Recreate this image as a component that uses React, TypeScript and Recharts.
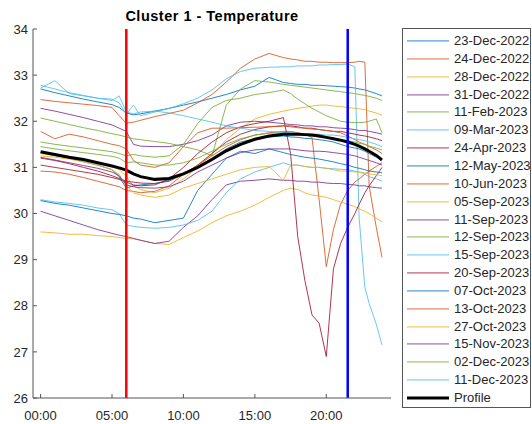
import React from 'react';
import { ComposedChart, Line, XAxis, YAxis, ReferenceLine, Legend } from 'recharts';

// hours of day
const times = [0, 1, 2, 3, 4, 5, 5.5, 6, 6.5, 7, 8, 9, 10, 11, 12, 13, 14, 15, 16, 17, 17.5, 18, 18.5, 19, 19.5, 20, 20.5, 21, 21.5, 22, 22.3, 22.7, 23, 23.5, 23.9];

const dec23_2022 = [32.70,32.62,32.55,32.48,32.42,32.36, 32.30,32.18,32.14,32.16,32.22,32.28,32.35, 32.42,32.50,32.58,32.68,32.76,32.95, 32.84,32.82,32.80,32.80,32.78,32.78, 32.77,32.76,32.75,32.74,32.72, 32.70,32.68,32.65,32.60,32.55];
const dec24_2022 = [32.47,32.43,32.40,32.37,32.34,32.30, 32.12,31.96,31.98,32.02,32.10,32.17,32.24, 32.40,32.58,32.85,33.15,33.35,33.47, 33.38,33.35,33.33,33.30,33.30,33.28, 33.28,33.27,33.27,33.27,33.28, 33.30,33.28,30.60,29.70,29.05];
const dec28_2022 = [31.30,31.25,31.20,31.15,31.10,31.02, 30.95,30.80,30.60,30.52,30.45,30.55,30.75, 31.00,31.30,31.60,31.85,32.05,32.15, 32.22,32.25,32.28,32.30,32.33,32.35, 32.35,32.33,32.32,32.30,32.28, 32.27,32.25,32.22,32.18,32.13];
const dec31_2022 = [32.28,32.22,32.15,32.08,32.00,31.92, 31.85,31.78,31.50,31.46,31.45,31.45,31.50, 31.58,31.70,31.90,31.98,32.00,31.98, 31.95,31.93,31.92,31.90,31.90,31.88, 31.88,31.86,31.85,31.84,31.82, 31.80,31.80,31.78,31.75,31.72];
const feb11_2023 = [32.07,32.00,31.93,31.86,31.80,31.73, 31.70,31.66,31.62,31.60,31.56,31.52,31.45, 31.38,31.25,32.35,32.70,32.88,32.85, 32.80,32.78,32.76,32.74,32.72,32.70, 32.68,32.66,32.64,32.62,32.60, 32.58,32.56,32.54,32.50,32.45];
const mar09_2023 = [32.78,32.70,32.62,32.56,32.50,32.48, 32.40,32.15,32.35,32.12,32.20,32.28,32.38, 32.50,32.68,32.92,33.08,33.15,33.17, 33.18,33.18,33.20,33.20,33.20,33.22, 33.22,33.23,33.23,33.24,33.18, 29.90,28.40,28.05,27.60,27.15];
const apr24_2023 = [31.20,31.15,31.08,31.00,30.92,30.82, 30.76,30.70,30.68,30.66,30.65,30.70,30.85, 31.05,31.30,31.55,31.72,31.82,31.88, 31.90,31.90,31.88,31.85,31.85,31.82, 31.80,31.78,31.78,31.75,31.72, 31.70,31.68,31.66,31.62,31.58];
const may12_2023 = [31.32,31.26,31.20,31.12,31.05,30.95, 30.80,30.55,30.60,30.62,30.65,30.72,30.85, 31.00,31.20,31.40,31.55,31.62,31.66, 31.68,31.66,31.65,31.63,31.62,31.60, 31.58,31.55,31.50,31.45,31.42, 31.40,31.35,31.30,31.22,31.18];
const jun10_2023 = [30.92,30.90,30.85,30.78,30.70,30.62, 30.58,30.50,30.48,30.45,30.48,30.60,30.85, 31.05,31.25,31.45,31.60,31.70,31.75, 31.78,31.78,31.75,31.72,31.65,30.30, 28.85,29.65,30.20,30.50,30.68, 30.75,30.85,30.92,31.02,31.10];
const sep05_2023 = [29.60,29.58,29.55,29.55,29.52,29.50, 29.48,29.46,29.45,29.42,29.35,29.33,29.48, 29.62,29.80,29.95,30.05,30.18,30.35, 30.50,30.55,30.52,30.45,30.40,30.38, 30.35,30.30,30.25,30.20,30.15, 30.10,30.05,30.00,29.90,29.82];
const sep11_2023 = [30.05,29.95,29.85,29.75,29.65,29.57, 29.53,29.50,29.46,29.42,29.35,29.40,29.70, 29.95,30.30,30.62,30.70,30.72,30.75, 30.72,30.72,30.70,30.70,30.68,30.68, 30.66,30.65,30.65,30.63,30.62, 30.60,30.60,30.58,30.56,30.55];
const sep12_2023 = [31.55,31.50,31.46,31.42,31.38,31.34, 31.30,31.25,31.28,31.25,31.22,31.25,31.50, 31.95,32.30,32.45,32.50,32.58,32.62, 32.68,32.60,32.48,32.38,32.28,32.20, 32.12,32.06,32.00,31.98,31.97, 31.97,31.98,32.00,32.05,31.75];
const sep15_2023 = [30.30,30.25,30.22,30.18,30.12,30.08, 30.00,29.75,29.72,29.70,29.68,29.70,29.75, 29.85,30.05,30.45,30.75,30.90,31.00, 31.10,31.05,31.05,31.02,31.00,31.00, 30.98,30.97,30.96,30.95,30.92, 30.90,30.85,30.80,30.75,30.70];
const sep20_2023 = [31.05,31.00,30.95,30.90,30.85,30.78, 30.74,30.68,30.62,30.60,30.62,30.75,31.00, 31.30,31.55,31.75,31.88,31.95,32.00, 32.08,31.30,29.50,28.55,27.80,27.62, 26.90,28.80,29.35,29.70,30.00, 30.20,30.45,30.60,30.82,31.00];
const oct07_2023 = [30.28,30.22,30.18,30.12,30.06,30.00, 29.98,29.95,29.90,29.88,29.80,29.85,29.90, 30.50,30.85,31.20,31.35,31.30,31.40, 31.32,31.28,31.25,31.22,31.20,31.18, 31.15,31.12,31.08,31.05,31.00, 30.98,30.95,30.92,30.90,30.88];
const oct13_2023 = [31.78,31.62,31.72,31.66,31.58,31.50, 31.47,31.40,31.15,31.05,31.00,31.10,31.45, 31.75,31.85,31.85,31.86,31.87,31.88, 31.90,31.88,31.86,31.85,31.83,31.82, 31.80,31.78,31.75,31.68,31.60, 31.55,31.50,31.45,31.38,31.30];
const oct27_2023 = [31.25,31.22,31.18,31.12,31.05,30.95, 30.85,30.60,30.45,30.40,30.35,30.40,30.55, 30.65,30.75,30.85,30.95,31.00,31.02, 30.72,31.05,31.05,31.02,31.00,31.00, 30.98,30.95,30.92,30.92,30.90, 30.90,30.88,30.86,30.84,30.82];
const nov15_2023 = [31.22,31.16,31.10,31.04,30.98,30.90, 30.82,30.62,30.58,30.56,30.55,30.58,30.70, 30.90,31.05,31.20,31.32,31.38,31.40, 31.40,31.40,31.38,31.36,31.35,31.35, 31.34,31.32,31.30,31.28,31.25, 31.22,31.18,31.15,31.10,31.05];
const dec02_2023 = [31.45,31.40,31.36,31.32,31.28,31.24, 31.20,31.10,31.12,31.10,31.05,31.05,31.10, 31.20,31.35,31.50,31.62,31.70,31.74, 31.75,31.74,31.72,31.70,31.68,31.66, 31.64,31.62,31.60,31.58,31.55, 31.52,31.50,31.46,31.42,31.38];
const dec11_2023 = [32.72,32.88,32.60,32.55,32.50,32.45, 32.55,32.20,32.16,32.20,32.22,32.18,32.12, 32.05,31.98,31.90,31.85,31.80,31.78, 31.76,31.75,31.74,31.73,31.72,31.72, 31.70,31.70,31.68,31.65,31.62, 31.60,31.58,31.55,31.50,31.45];
const profile = [31.34,31.28,31.22,31.17,31.10,31.03, 30.99,30.94,30.86,30.80,30.74,30.76,30.86, 31.00,31.17,31.36,31.50,31.61,31.68, 31.72,31.72,31.72,31.71,31.70,31.68, 31.65,31.62,31.59,31.55,31.50, 31.46,31.40,31.35,31.26,31.16];

const seriesNames = ['23-Dec-2022','24-Dec-2022','28-Dec-2022','31-Dec-2022','11-Feb-2023','09-Mar-2023','24-Apr-2023','12-May-2023','10-Jun-2023','05-Sep-2023','11-Sep-2023','12-Sep-2023','15-Sep-2023','20-Sep-2023','07-Oct-2023','13-Oct-2023','27-Oct-2023','15-Nov-2023','02-Dec-2023','11-Dec-2023'];
const seriesValues = [dec23_2022, dec24_2022, dec28_2022, dec31_2022, feb11_2023, mar09_2023, apr24_2023, may12_2023, jun10_2023, sep05_2023, sep11_2023, sep12_2023, sep15_2023, sep20_2023, oct07_2023, oct13_2023, oct27_2023, nov15_2023, dec02_2023, dec11_2023];
const profileName = 'Profile';
const legendOrder = [...seriesNames, profileName];

const xTicks = [0, 5, 10, 15, 20];
const xTickLabels = ['00:00', '05:00', '10:00', '15:00', '20:00'];
const yTicks = [26, 27, 28, 29, 30, 31, 32, 33, 34];
const startMarker = 6;
const endMarker = 21.5;
const title = 'Cluster 1 - Temperature';

const palette = ['#0072BD', '#D95319', '#EDB120', '#7E2F8E', '#77AC30', '#4DBEEE', '#A2142F'];
const FONT = '"Liberation Sans", Arial, Helvetica, sans-serif';
const AXIS = '#555555';
const TXT = '#262626';

const data = times.map((t, i) => {
  const row: Record<string, number> = { t };
  seriesValues.forEach((vals, k) => { row['s' + k] = vals[i]; });
  row.profile = profile[i];
  return row;
});

const BottomTick = (p: any) => {
  const { x, y, payload } = p;
  const idx = xTicks.indexOf(payload.value);
  return (
    <g>
      <line x1={x} y1={y} x2={x} y2={y - 4} stroke={AXIS} />
      <text x={x} y={y + 21.5} textAnchor="middle" fontSize={13} fill={TXT} fontFamily={FONT}>{xTickLabels[idx]}</text>
    </g>
  );
};
const TopTick = (p: any) => {
  const { x, y } = p;
  return <line x1={x} y1={y} x2={x} y2={y + 4} stroke={AXIS} />;
};
const LeftTick = (p: any) => {
  const { x, y, payload } = p;
  return (
    <g>
      <line x1={x} y1={y} x2={x + 4} y2={y} stroke={AXIS} />
      <text x={x - 5} y={y + 4.7} textAnchor="end" fontSize={13} fill={TXT} fontFamily={FONT}>{payload.value}</text>
    </g>
  );
};
const RightTick = (p: any) => {
  const { x, y } = p;
  return <line x1={x} y1={y} x2={x - 4} y2={y} stroke={AXIS} />;
};

const ROW = 17.85;
const renderLegend = (props: any) => {
  const items = [...(props.payload || [])].sort(
    (a: any, b: any) => legendOrder.indexOf(a.value) - legendOrder.indexOf(b.value)
  );
  return (
    <div style={{ position: 'relative', width: 129, height: 380, border: '1px solid #555', boxSizing: 'border-box', background: '#fff', fontFamily: FONT }}>
      {items.map((e: any, i: number) => {
        const isProfile = e.value === profileName;
        const top = 3 + i * ROW;
        return (
          <div key={i} style={{ position: 'absolute', left: 0, top, height: ROW, width: 127 }}>
            <svg width={50} height={ROW} style={{ position: 'absolute', left: 0, top: 0 }}>
              <line x1={4} x2={46} y1={ROW / 2} y2={ROW / 2} stroke={e.color} strokeWidth={isProfile ? 3 : 1} strokeOpacity={isProfile ? 1 : 0.85} />
            </svg>
            <span style={{ position: 'absolute', left: 51, top: 0, lineHeight: ROW + 'px', fontSize: 13, color: TXT, whiteSpace: 'nowrap' }}>{e.value}</span>
          </div>
        );
      })}
    </div>
  );
};

export default function App() {
  return (
    <div style={{ position: 'absolute', left: 0, top: 0, width: 532, height: 424, background: '#fff' }}>
      <svg width={532} height={30} style={{ position: 'absolute', left: 0, top: 0 }}>
        <text x={212} y={21} textAnchor="middle" fontSize={14.5} fontWeight="bold" fill="#000" fontFamily={FONT} letterSpacing={0.5}>{title}</text>
      </svg>
      <div style={{ position: 'absolute', left: 0, top: 0 }}>
        <ComposedChart width={532} height={424} data={data} margin={{ top: 29, right: 141, bottom: 0, left: 0 }}>
          <XAxis dataKey="t" type="number" domain={[-0.53, 24.53]} ticks={xTicks} interval={0} allowDataOverflow
            height={26} tickSize={0} tickMargin={0} tickLine={false} axisLine={{ stroke: AXIS }} tick={BottomTick} />
          <XAxis xAxisId="top" orientation="top" dataKey="t" type="number" domain={[-0.53, 24.53]} ticks={xTicks} interval={0} allowDataOverflow
            height={0} tickSize={0} tickMargin={0} tickLine={false} axisLine={{ stroke: AXIS }} tick={TopTick} />
          <YAxis type="number" domain={[26, 34]} ticks={yTicks} interval={0} allowDataOverflow
            width={33} tickSize={0} tickMargin={0} tickLine={false} axisLine={{ stroke: AXIS }} tick={LeftTick} />
          <YAxis yAxisId="r" orientation="right" type="number" domain={[26, 34]} ticks={yTicks} interval={0} allowDataOverflow
            width={0} tickSize={0} tickMargin={0} tickLine={false} axisLine={{ stroke: AXIS }} tick={RightTick} />
          {seriesValues.map((_, k) => (
            <Line key={k} dataKey={'s' + k} name={seriesNames[k]} type="linear" stroke={palette[k % palette.length]}
              strokeWidth={1} strokeOpacity={0.85} dot={false} activeDot={false} isAnimationActive={false} />
          ))}
          <Line dataKey="profile" name={profileName} type="linear" stroke="#000000" strokeWidth={3}
            dot={false} activeDot={false} isAnimationActive={false} />
          <ReferenceLine x={startMarker} stroke="#FF0000" strokeWidth={2.5} />
          <ReferenceLine x={endMarker} stroke="#0000FF" strokeWidth={2.5} />
          <Legend layout="vertical" align="center" verticalAlign="middle" content={renderLegend}
            itemSorter={(item: any) => legendOrder.indexOf(item.value)}
            wrapperStyle={{ left: 402, top: 28, width: 129, height: 380 }} />
        </ComposedChart>
      </div>
    </div>
  );
}
